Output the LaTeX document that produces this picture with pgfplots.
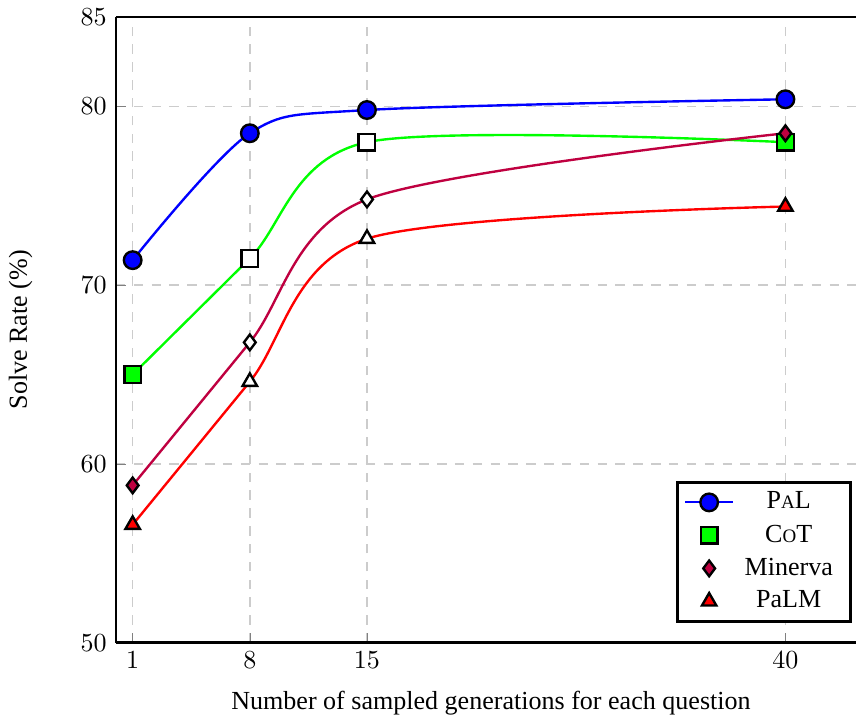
\documentclass[11pt,border=0pt]{standalone}
\usepackage{fontspec}
\setmainfont{Liberation Serif}
\usepackage{pgfplots}
\pgfplotsset{compat=1.18}
\pgfplotsset{
  longline legend/.style={legend image code/.code={%
    \draw[mark repeat=2,mark phase=2,##1]
      plot coordinates {(0cm,0cm) (0.35cm,0cm) (0.7cm,0cm)};}},
  mark legend/.style={legend image code/.code={%
    \draw[##1] plot coordinates {(0.35cm,0cm)};}},
}
% Liberation Serif has no small caps, so fake them
\newcommand{\fsc}[1]{{\fontsize{8}{9.6}\selectfont #1}}
\begin{document}
\begin{tikzpicture}
\begin{axis}[
  scale only axis,
  width=311pt, height=263pt,
  xmin=0, xmax=44.2,
  ymin=50, ymax=85,
  xtick={1,8,15,40},
  ytick={50,60,70,80,85},
  axis x line=box,
  axis y line*=left,
  axis line style={line width=1.1pt},
  xtick pos=bottom,
  grid=major,
  major grid style={dash pattern=on 4pt off 3.5pt, gray!40, line width=0.6pt},
  xlabel={Number of sampled generations for each question},
  ylabel={Solve Rate (\%)},
  xlabel style={at={(axis description cs:0.507,-0.096)}, anchor=center},
  ylabel style={at={(axis description cs:-0.129,0.5)}, anchor=center},
  legend style={at={(axis description cs:0.995,0.032)}, anchor=south east,
    draw=black, line width=1.1pt, row sep=1pt, nodes={inner xsep=4.5pt}},
  legend cell align=center,
  legend image post style={line width=0.9pt},
]
% PaL
\addplot[blue, line width=1pt, smooth, mark=*, mark size=3.7pt,
  mark options={fill=blue, draw=black, line width=1pt}, longline legend]
  coordinates {(1,71.4) (8,78.5) (15,79.8) (40,80.4)};
\addlegendentry{P\fsc{A}L}
% CoT
\addplot[green, line width=1pt, smooth, forget plot]
  coordinates {(1,65.0) (8,71.5) (15,78.0) (40,78.0)};
\addplot[only marks, mark=square*, mark size=3.5pt,
  mark options={fill=green, draw=black, line width=1pt}, mark legend]
  coordinates {(1,65.0) (40,78.0)};
\addlegendentry{C\fsc{O}T}
\addplot[only marks, mark=square*, mark size=3.5pt, forget plot,
  mark options={fill=white, draw=black, line width=1pt}]
  coordinates {(8,71.5) (15,78.0)};
% Minerva
\addplot[purple, line width=1pt, smooth, forget plot]
  coordinates {(1,58.8) (8,66.8) (15,74.8) (40,78.5)};
\addplot[only marks, mark=diamond*, mark size=3.3pt,
  mark options={fill=purple, draw=black, line width=1pt}, mark legend]
  coordinates {(1,58.8) (40,78.5)};
\addlegendentry{Minerva}
\addplot[only marks, mark=diamond*, mark size=3.3pt, forget plot,
  mark options={fill=white, draw=black, line width=1pt}]
  coordinates {(8,66.8) (15,74.8)};
% PaLM
\addplot[red, line width=1pt, smooth, forget plot]
  coordinates {(1,56.6) (8,64.6) (15,72.6) (40,74.4)};
\addplot[only marks, mark=triangle*, mark size=3.5pt,
  mark options={fill=red, draw=black, line width=1pt}, mark legend]
  coordinates {(1,56.6) (40,74.4)};
\addlegendentry{PaLM}
\addplot[only marks, mark=triangle*, mark size=3.5pt, forget plot,
  mark options={fill=white, draw=black, line width=1pt}]
  coordinates {(8,64.6) (15,72.6)};
\end{axis}
\end{tikzpicture}
\end{document}
